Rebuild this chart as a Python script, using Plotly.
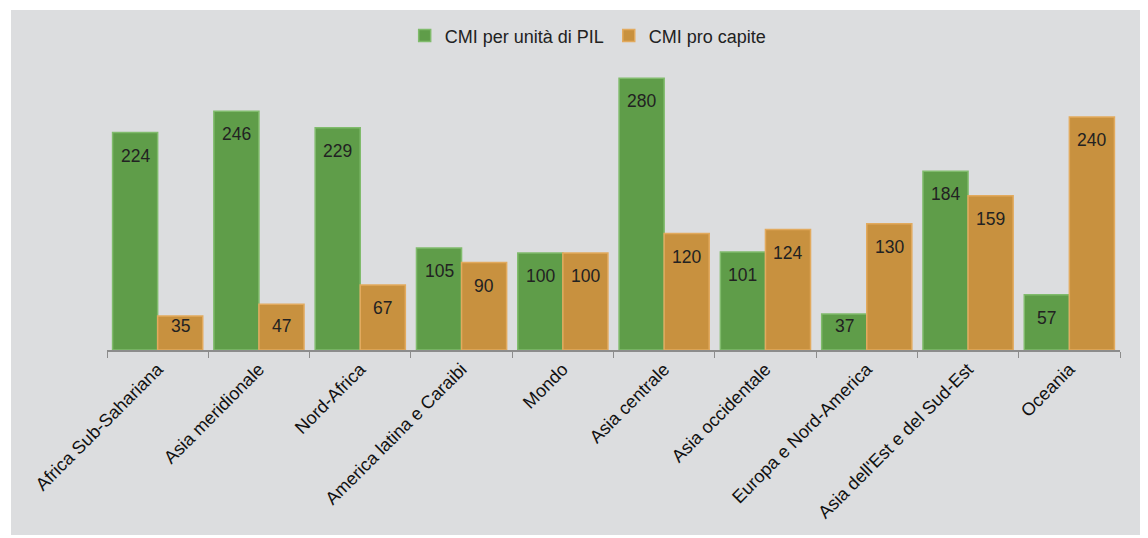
import plotly.graph_objects as go

categories = ["Africa Sub-Sahariana", "Asia meridionale", "Nord-Africa",
              "America latina e Caraibi", "Mondo", "Asia centrale",
              "Asia occidentale", "Europa e Nord-America",
              "Asia dell'Est e del Sud-Est", "Oceania"]
cmi_pil = [224, 246, 229, 105, 100, 280, 101, 37, 184, 57]
cmi_capite = [35, 47, 67, 90, 100, 120, 124, 130, 159, 240]
series_names = ["CMI per unità di PIL", "CMI pro capite"]

GREEN = "#5f9d49"
ORANGE = "#c8913f"
FONT = "Liberation Sans, Arial, sans-serif"

W, H = 1148, 538
L, R, T, B = 107, 28, 50, 188
plot_h = H - T - B
YMAX = 309
px_per_unit = plot_h / YMAX

fig = go.Figure()
fig.add_trace(go.Bar(x=categories, y=cmi_pil, name=series_names[0],
                     marker=dict(color=GREEN, line=dict(color="#80bb6c", width=1.5))))
fig.add_trace(go.Bar(x=categories, y=cmi_capite, name=series_names[1],
                     marker=dict(color=ORANGE, line=dict(color="#e2aa5e", width=1.5))))

annotations = []
for idx, vals in enumerate([cmi_pil, cmi_capite]):
    for i, v in enumerate(vals):
        vpx = v * px_per_unit
        shift = -min(23, vpx - 24)
        annotations.append(dict(
            x=categories[i], y=v, xref="x", yref="y", text=str(v),
            showarrow=False, yshift=shift, xshift=(-22.5 if idx == 0 else 22.5),
            font=dict(family=FONT, size=17.5, color="#222222"),
            yanchor="middle", xanchor="center"))

fig.update_layout(
    width=W, height=H,
    margin=dict(l=L, r=R, t=T, b=B),
    paper_bgcolor="white",
    plot_bgcolor="rgba(0,0,0,0)",
    barmode="group", bargap=0.11, bargroupgap=0.0,
    font=dict(family=FONT, size=18, color="#111111"),
    showlegend=True,
    legend=dict(orientation="h", x=0.475, xanchor="center", y=1.047, yanchor="middle",
                font=dict(family=FONT, size=18, color="#222222"),
                bgcolor="rgba(0,0,0,0)", itemwidth=30, traceorder="normal"),
    annotations=annotations,
    shapes=[dict(type="rect", xref="paper", yref="paper",
                 x0=(11 - L) / (W - L - R), x1=(1140 - L) / (W - L - R),
                 y0=-(535 - (H - B)) / plot_h, y1=1 + (T - 10) / plot_h,
                 fillcolor="#dcdddf", line=dict(width=0), layer="below")],
    xaxis=dict(showline=True, linecolor="#8c8c8c", linewidth=1.5,
               ticks="outside", tickson="boundaries", ticklen=6, tickcolor="#8c8c8c",
               tickangle=-45, tickfont=dict(family=FONT, size=18, color="#111111"),
               showgrid=False),
    yaxis=dict(range=[0, YMAX], visible=False, showgrid=False, zeroline=False),
)

fig.write_html("out.html", config={"displayModeBar": False},
               post_script="document.body.style.margin='0';")
